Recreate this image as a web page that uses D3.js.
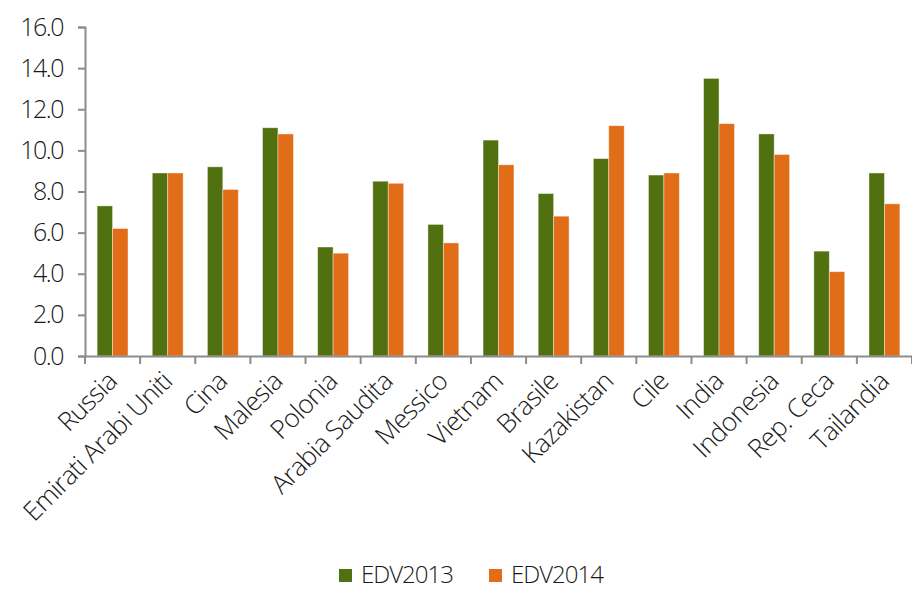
<!DOCTYPE html>
<html>
<head>
<meta charset="utf-8">
<script src="https://cdn.jsdelivr.net/npm/d3@7"></script>
<style>
  body { margin:0; background:#fff; }
  text { font-family: "Open Sans", sans-serif; font-weight:300; fill:#1a1a1a; }
</style>
</head>
<body>
<div id="plot"></div>
<script>
// data
var countries = ['Russia','Emirati Arabi Uniti','Cina','Malesia','Polonia','Arabia Saudita','Messico','Vietnam','Brasile','Kazakistan','Cile','India','Indonesia','Rep. Ceca','Tailandia'];
var edv2013 = [7.3, 8.9, 9.2, 11.1, 5.3, 8.5, 6.4, 10.5, 7.9, 9.6, 8.8, 13.5, 10.8, 5.1, 8.9];
var edv2014 = [6.2, 8.9, 8.1, 10.8, 5.0, 8.4, 5.5, 9.3, 6.8, 11.2, 8.9, 11.3, 9.8, 4.1, 7.4];
var seriesNames = ['EDV2013','EDV2014'];
var colors = ['#51700f','#e26d18'];
var yTicks = [0,2,4,6,8,10,12,14,16];

var W = 912, H = 590;
var margin = {t:27, r:0, b:234, l:85};
var width = W - margin.l - margin.r,
    height = H - margin.t - margin.b;

var svg = d3.select('#plot')
  .append('svg')
  .attr('width', W)
  .attr('height', H);

var plot = svg.append('g')
  .attr('transform','translate('+margin.l+','+margin.t+')');

var x = d3.scaleBand().domain(countries).range([0, width]).paddingInner(0).paddingOuter(0);
var xs = d3.scaleBand().domain(seriesNames).range([x.bandwidth()*0.22, x.bandwidth()*0.78]);
var y = d3.scaleLinear().domain([0,16]).range([height, 0]);

var rows = countries.map(function(c, i){
  return {name:c, values:[edv2013[i], edv2014[i]]};
});

// bars
var groups = plot.selectAll('.grp')
  .data(rows)
  .enter()
  .append('g')
  .attr('class','grp')
  .attr('transform', function(d){ return 'translate('+x(d.name)+',0)'; });

groups.selectAll('rect')
  .data(function(d){ return d.values.map(function(v,i){ return {s:seriesNames[i], v:v, i:i}; }); })
  .enter()
  .append('rect')
  .attr('x', function(d){ return xs(d.s); })
  .attr('width', xs.bandwidth())
  .attr('y', function(d){ return y(d.v); })
  .attr('height', function(d){ return height - y(d.v); })
  .style('fill', function(d){ return colors[d.i]; })
  .style('stroke', 'rgba(255,255,255,0.5)')
  .style('stroke-width', 0.8);

// y axis
var yAxis = plot.append('g')
  .call(d3.axisLeft(y).tickValues(yTicks).tickSize(7).tickPadding(15).tickFormat(d3.format('.1f')));
yAxis.select('.domain').attr('stroke','#8c8c8c').attr('stroke-width',2);
yAxis.selectAll('.tick line').attr('stroke','#8c8c8c').attr('stroke-width',2);
yAxis.selectAll('.tick text')
  .style('font-size','25px')
  .style('letter-spacing','-1.5px')
  .attr('fill','#1a1a1a');

// x axis
var xAxis = plot.append('g')
  .attr('transform','translate(0,'+height+')')
  .call(d3.axisBottom(x).tickSize(0).tickFormat(''));
xAxis.select('.domain').attr('stroke','#8c8c8c').attr('stroke-width',2);

var bounds = countries.map(function(c){ return x(c); }).concat([width]);
xAxis.selectAll('.bt')
  .data(bounds)
  .enter()
  .append('line')
  .attr('class','bt')
  .attr('x1', function(d){ return d; })
  .attr('x2', function(d){ return d; })
  .attr('y1', 0)
  .attr('y2', 8)
  .attr('stroke','#8c8c8c')
  .attr('stroke-width',2);

xAxis.selectAll('.lbl')
  .data(countries)
  .enter()
  .append('text')
  .attr('class','lbl')
  .attr('text-anchor','end')
  .attr('transform', function(d){
    return 'translate('+(x(d)+x.bandwidth()/2+6)+',27) rotate(-45)';
  })
  .style('font-size','26px')
  .style('letter-spacing','-0.7px')
  .text(function(d){ return d; });

// legend
var legend = svg.append('g')
  .attr('transform','translate(339,569)');
var lx = [0, 150];
seriesNames.forEach(function(s, i){
  var g = legend.append('g').attr('transform','translate('+lx[i]+',0)');
  g.append('rect')
    .attr('width',13).attr('height',13)
    .style('fill', colors[i]);
  g.append('text')
    .attr('x',22).attr('y',14)
    .style('font-size','24px')
    .style('letter-spacing','-1px')
    .text(s);
});
</script>
</body>
</html>
